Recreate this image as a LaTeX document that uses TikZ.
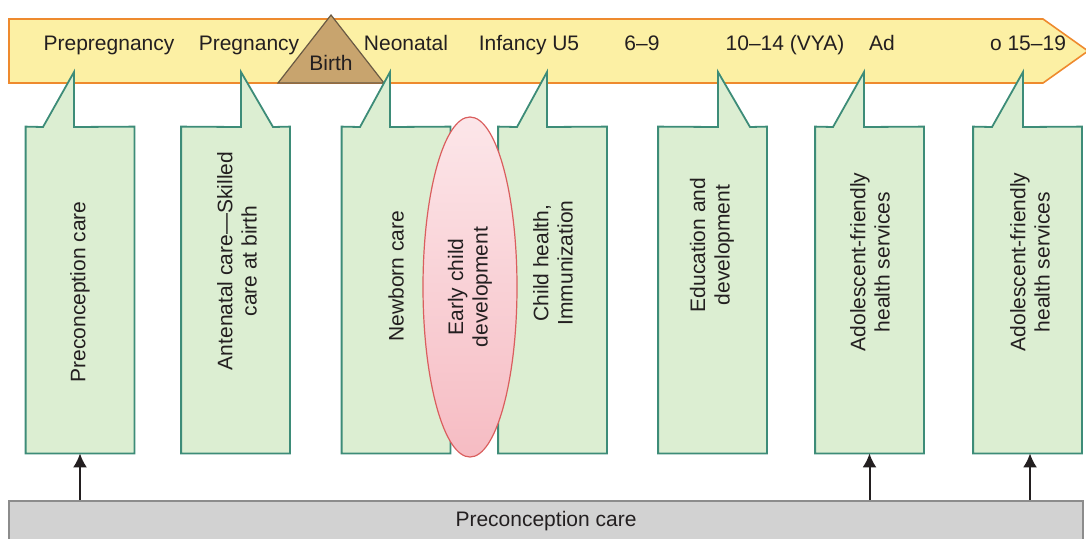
\documentclass[tikz,border=0pt]{standalone}
\usepackage{fontspec}
\setmainfont{Liberation Sans}
\usetikzlibrary{shapes.geometric,arrows.meta}

\definecolor{ink}{HTML}{231F20}
\definecolor{bannerfill}{HTML}{FCF0A4}
\definecolor{bannerline}{HTML}{EE8A2E}
\definecolor{boxfill}{HTML}{DCEED2}
\definecolor{boxline}{HTML}{3D8C78}
\definecolor{birthfill}{HTML}{C8A46E}
\definecolor{birthline}{HTML}{6A5A44}
\definecolor{ovaltop}{HTML}{FCE6E9}
\definecolor{ovalbottom}{HTML}{F6BCC3}
\definecolor{ovalline}{HTML}{DA5E5E}
\definecolor{barfill}{HTML}{D2D2D2}
\definecolor{barline}{HTML}{8C8C8C}

\begin{document}
\begin{tikzpicture}[x=0.5pt,y=-0.5pt,
  every node/.style={font=\fontsize{10.5}{12.2}\selectfont, text=ink},
  stagelabel/.style={anchor=base, inner sep=0pt},
  boxslot/.style={minimum width=54pt, minimum height=163pt, inner sep=0pt},
  callout/.style={fill=boxfill, draw=boxline, line width=0.9pt, line join=miter},
  caretext/.style={rotate=90, align=center, inner sep=0pt},
  feed/.style={draw=ink, line width=1pt, -{Latex[length=7pt,width=7pt]}}
]
\useasboundingbox (0,0) rectangle (1086,538);

% timeline banner
\filldraw[fill=bannerfill, draw=bannerline, line width=0.8pt]
  (9,19) -- (1043,19) -- (1088,51) -- (1043,83) -- (9,83) -- cycle;

% birth marker
\filldraw[fill=birthfill, draw=birthline, line width=0.6pt]
  (278,83) -- (331,15) -- (384,83) -- cycle;
\node[stagelabel] (birth) at (331,70) {Birth};

% stage labels along the banner
\node[stagelabel] (s1) at (109,50) {Prepregnancy};
\node[stagelabel] (s2) at (249,50) {Pregnancy};
\node[stagelabel] (s3) at (406,50) {Neonatal};
\node[stagelabel] (s4) at (529,50) {Infancy U5};
\node[stagelabel] (s5) at (642,50) {6–9};
\node[stagelabel] (s6) at (785,50) {10–14 (VYA)};
\node[stagelabel] (s7) at (882,50) {Ad};
\node[stagelabel] (s8) at (1028,50) {o 15–19};

% slots for the care boxes
\node[boxslot] (b1) at (80,290) {};
\node[boxslot] (b2) at (235.5,290) {};
\node[boxslot] (b3) at (396,290) {};
\node[boxslot] (b4) at (552.5,290) {};
\node[boxslot] (b5) at (712.5,290) {};
\node[boxslot] (b6) at (869.5,290) {};
\node[boxslot] (b7) at (1027.5,290) {};

% callout outlines, each pointing up into the banner
\path[callout] (b1.north west) -- (43,127) -- (74,72) -- (74,127)
  -- (b1.north east) -- (b1.south east) -- (b1.south west) -- cycle;
\path[callout] (b2.north west) -- (241,127) -- (241,72) -- (273,127)
  -- (b2.north east) -- (b2.south east) -- (b2.south west) -- cycle;
\path[callout] (b3.north west) -- (360,127) -- (390,72) -- (390,127)
  -- (b3.north east) -- (b3.south east) -- (b3.south west) -- cycle;
\path[callout] (b4.north west) -- (517,127) -- (547,72) -- (547,127)
  -- (b4.north east) -- (b4.south east) -- (b4.south west) -- cycle;
\path[callout] (b5.north west) -- (718,127) -- (718,72) -- (750,127)
  -- (b5.north east) -- (b5.south east) -- (b5.south west) -- cycle;
\path[callout] (b6.north west) -- (833,127) -- (864,72) -- (864,127)
  -- (b6.north east) -- (b6.south east) -- (b6.south west) -- cycle;
\path[callout] (b7.north west) -- (992,127) -- (1023,72) -- (1023,127)
  -- (b7.north east) -- (b7.south east) -- (b7.south west) -- cycle;

% box texts
\node[caretext] (t1) at (80,292) {Preconception care};
\node[caretext] (t2) at (237,261) {Antenatal care—Skilled\\care at birth};
\node[caretext] (t3) at (396,276) {Newborn care};
\node[caretext] (t4) at (553,263) {Child health,\\Immunization};
\node[caretext] (t5) at (712,245) {Education and\\development};
\node[caretext] (t6) at (870,262) {Adolescent-friendly\\health services};
\node[caretext] (t7) at (1030,262) {Adolescent-friendly\\health services};

% early child development oval
\node[ellipse, minimum width=47pt, minimum height=170pt, inner sep=0pt,
      top color=ovaltop, bottom color=ovalbottom, draw=ovalline,
      line width=0.6pt] (ecd) at (470,287) {};
\node[caretext] (t8) at (470,287) {Early child\\development};

% base bar
\node[fill=barfill, draw=barline, line width=0.8pt, minimum width=537pt,
      minimum height=20pt, inner sep=0pt] (bar) at (546,521) {Preconception care};

% feeds from the base bar
\draw[feed] (bar.north -| b1.south) -- (b1.south);
\draw[feed] (bar.north -| b6.south) -- (b6.south);
\draw[feed] (bar.north -| t7) -- (t7 |- b7.south);
\end{tikzpicture}
\end{document}
